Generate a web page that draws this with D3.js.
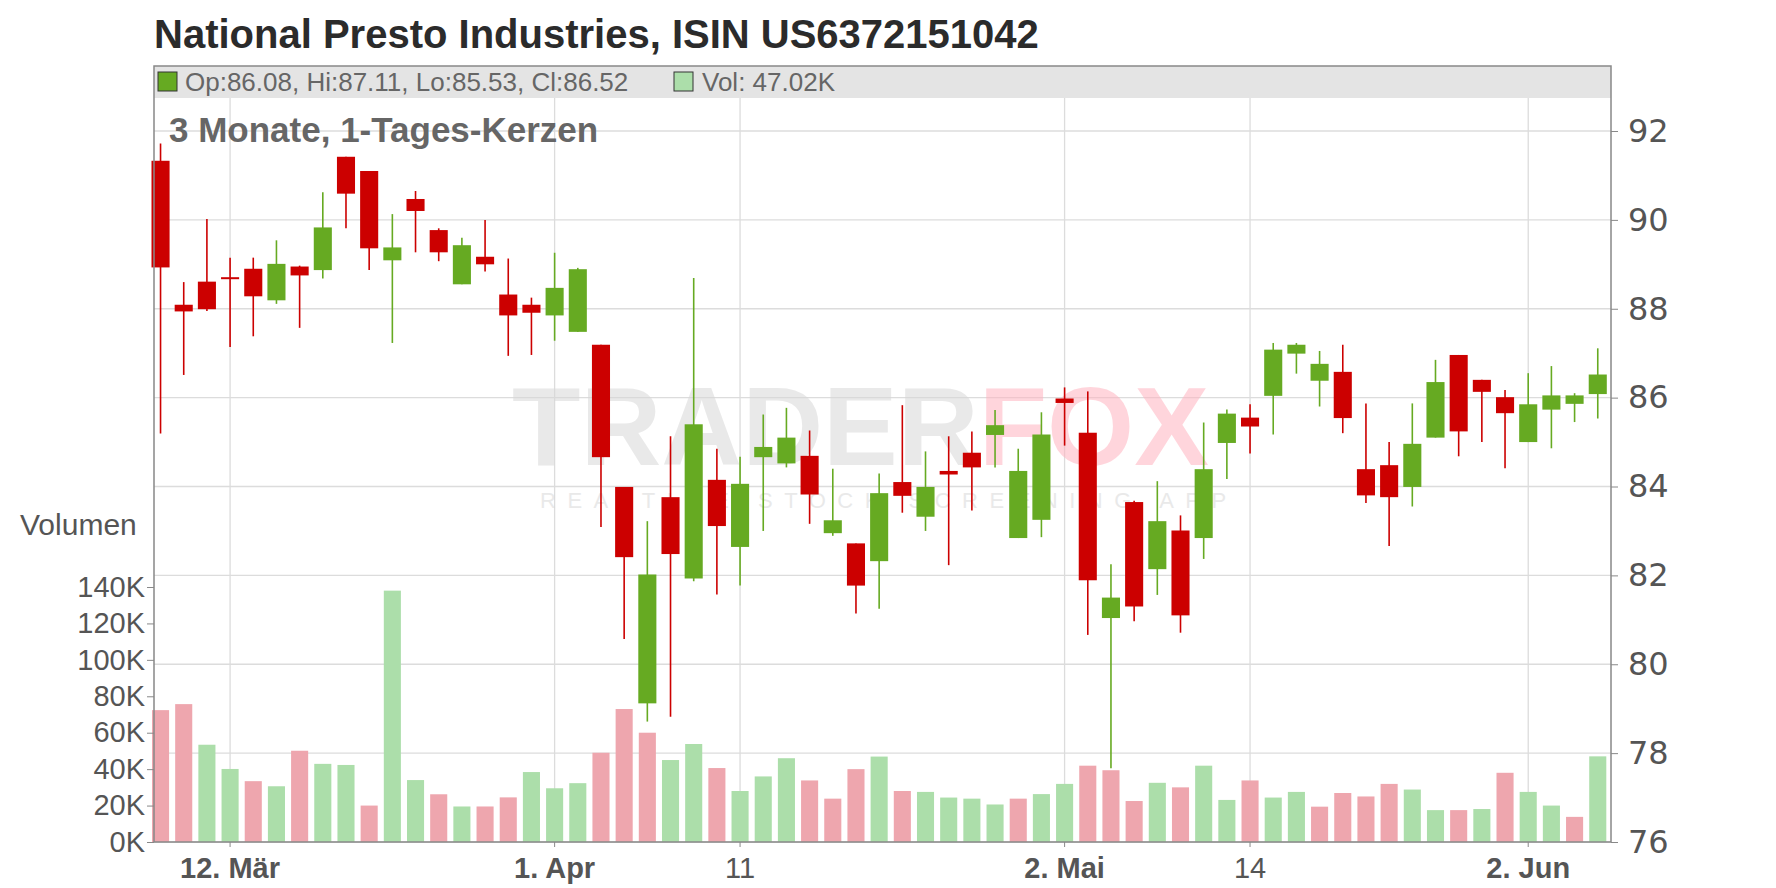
<!DOCTYPE html>
<html>
<head>
<meta charset="utf-8">
<script src="https://cdn.jsdelivr.net/npm/d3@7"></script>
<style>
  body { margin: 0; background: #fff; }
  svg { display: block; font-family: "Liberation Sans", Arial, sans-serif; }
</style>
</head>
<body>
<svg id="chart" width="1776" height="888"></svg>
<script>
// trading days, 7 Mar - 5 Jun
const dates = ['03-07','03-10','03-11','03-12','03-13','03-14','03-17','03-18','03-19','03-20','03-21',
  '03-24','03-25','03-26','03-27','03-28','03-31','04-01','04-02','04-03','04-04','04-07','04-08','04-09',
  '04-10','04-11','04-14','04-15','04-16','04-17','04-21','04-22','04-23','04-24','04-25','04-28','04-29',
  '04-30','05-01','05-02','05-05','05-06','05-07','05-08','05-09','05-12','05-13','05-14','05-15','05-16',
  '05-19','05-20','05-21','05-22','05-23','05-27','05-28','05-29','05-30','06-02','06-03','06-04','06-05']

const open  = [91.33,88.09,88.61,88.71,88.90,88.19,88.95,88.87,91.42,91.10,89.09,90.47,89.77,88.55,89.17,88.32,88.09,87.85,87.48,
  87.19,83.99,79.12,83.76,81.93,84.15,82.64,84.66,84.52,84.69,82.95,82.72,82.32,84.10,83.32,84.35,84.76,85.16,82.84,
  83.25,85.98,85.21,81.04,83.65,82.14,83.01,82.84,84.98,85.55,86.04,86.99,86.38,86.58,84.39,84.48,83.99,85.10,
  86.96,86.40,86.01,85.00,85.73,85.86,86.08]
const high  = [91.72,88.60,90.02,89.15,89.15,89.54,88.97,90.62,91.42,91.10,90.13,90.65,89.81,89.60,90.00,89.13,88.25,89.26,88.92,
  87.19,83.99,83.22,85.13,88.69,84.85,84.67,85.62,85.77,85.26,84.40,82.72,84.29,85.83,84.79,85.13,85.24,85.72,84.85,
  85.67,86.23,86.14,82.25,83.68,84.12,83.35,85.44,85.73,85.85,87.23,87.23,87.05,87.19,85.87,85.00,85.87,86.85,
  86.96,86.40,86.17,86.55,86.71,86.10,87.11]
const low   = [85.19,86.51,87.95,87.14,87.38,88.11,87.57,88.68,89.81,88.87,87.23,89.27,89.07,88.55,88.84,86.94,86.96,87.28,87.48,
  83.09,80.57,78.71,78.82,81.87,81.57,81.77,83.00,84.43,83.16,82.89,81.14,81.25,83.41,83.00,82.23,83.46,84.43,82.84,
  82.86,84.92,80.66,77.66,80.97,81.56,80.71,82.37,84.17,84.74,85.17,86.54,85.80,85.20,83.63,82.66,83.55,85.10,
  84.68,85.00,84.41,85.00,84.86,85.45,85.53]
const close = [88.93,87.94,87.99,88.67,88.28,89.01,88.75,89.83,90.59,89.36,89.38,90.20,89.27,89.43,89.00,87.85,87.91,88.47,88.89,
  84.66,82.41,82.02,82.48,85.40,83.11,84.06,84.89,85.10,83.82,83.24,81.77,83.85,83.79,83.99,84.27,84.43,85.38,84.35,
  85.17,85.88,81.89,81.50,81.30,83.22,81.10,84.39,85.64,85.35,87.08,87.19,86.76,85.54,83.80,83.76,84.96,86.35,
  85.24,86.13,85.65,85.85,86.05,86.05,86.52]
// volume in thousands
const volume = [72.4,75.7,53.4,40.1,33.4,30.6,50.1,42.9,42.3,20.0,138,34.0,26.2,19.5,19.5,24.5,38.4,29.5,32.3,49.0,
  73,60,45,53.8,40.6,28,36,46,33.8,23.8,40,46.9,28,27.5,24.4,23.8,20.6,23.8,26.3,31.9,41.9,39.4,22.5,32.5,30,41.9,
  23.1,33.8,24.4,27.5,19.4,26.9,25,31.9,28.8,17.5,17.5,18.1,38,27.5,20,13.8,47.02]

const priceTicks = [76,78,80,82,84,86,88,90,92]
const volTicks = [0,20,40,60,80,100,120,140]
const xTicks = [['03-12','12. Mär',true],['04-01','1. Apr',true],['04-11','11',false],
  ['05-02','2. Mai',true],['05-14','14',false],['06-02','2. Jun',true]]

const RED = '#cc0000', GREEN = '#66aa22'
const VRED = '#eea6ae', VGREEN = '#acdeaa'

const svg = d3.select('#chart')
const L = 154, R = 1611, T = 66, B = 842

const x = d3.scaleBand().domain(dates).range([151.5, 1606.8]).paddingInner(0.22)
const y = d3.scaleLinear().domain([76, 92]).range([B, 131])
const yv = d3.scaleLinear().domain([0, 140]).range([B, 587])
const cx = d => x(d) + x.bandwidth() / 2

// grid
svg.append('g').selectAll('line').data(priceTicks).join('line')
  .attr('x1', L).attr('x2', R).attr('y1', d => y(d)).attr('y2', d => y(d))
  .attr('stroke', '#dcdcdc').attr('stroke-width', 1.3)
svg.append('g').selectAll('line').data(xTicks).join('line')
  .attr('x1', d => cx(d[0])).attr('x2', d => cx(d[0])).attr('y1', T).attr('y2', B)
  .attr('stroke', '#dcdcdc').attr('stroke-width', 1.3)

// watermark
const wm = svg.append('g').attr('opacity', 0.55)
wm.append('text').attr('x', 512).attr('y', 465).attr('font-size', 112).attr('font-weight', 'bold')
  .attr('fill', '#d8d8d8').text('TRADER')
  .append('tspan').attr('fill', '#ffb4c0').text('FOX')
wm.append('text').attr('x', 540).attr('y', 508).attr('font-size', 22).attr('letter-spacing', 11.5)
  .attr('fill', '#d8d8d8').text('REALTIME STOCK SCREENING APP')

// volume bars
svg.append('g').selectAll('rect').data(dates).join('rect')
  .attr('x', d => x(d) + 0.5).attr('width', x.bandwidth() - 1)
  .attr('y', (d, i) => yv(volume[i])).attr('height', (d, i) => B - yv(volume[i]))
  .attr('fill', (d, i) => i > 0 && close[i] > close[i - 1] ? VGREEN : VRED)

// candles
const cg = svg.append('g')
cg.selectAll('line').data(dates).join('line')
  .attr('x1', cx).attr('x2', cx)
  .attr('y1', (d, i) => y(high[i])).attr('y2', (d, i) => y(low[i]))
  .attr('stroke', (d, i) => close[i] >= open[i] ? GREEN : RED).attr('stroke-width', 1.6)
cg.selectAll('rect').data(dates).join('rect')
  .attr('x', d => x(d)).attr('width', x.bandwidth())
  .attr('y', (d, i) => y(Math.max(open[i], close[i])))
  .attr('height', (d, i) => Math.max(2, Math.abs(y(open[i]) - y(close[i]))))
  .attr('fill', (d, i) => close[i] >= open[i] ? GREEN : RED)

// header band
svg.append('rect').attr('x', L).attr('y', T).attr('width', R - L).attr('height', 32).attr('fill', '#e4e4e4')
const hd = svg.append('g').attr('font-size', 26).attr('fill', '#666')
hd.append('rect').attr('x', 158).attr('y', 72).attr('width', 19).attr('height', 19)
  .attr('fill', GREEN).attr('stroke', '#333').attr('stroke-width', 1)
hd.append('text').attr('x', 185).attr('y', 91).attr('fill', '#666')
  .text(`Op:${open[62].toFixed(2)}, Hi:${high[62].toFixed(2)}, Lo:${low[62].toFixed(2)}, Cl:${close[62].toFixed(2)}`)
hd.append('rect').attr('x', 674).attr('y', 72).attr('width', 19).attr('height', 19)
  .attr('fill', VGREEN).attr('stroke', '#333').attr('stroke-width', 1)
hd.append('text').attr('x', 702).attr('y', 91).attr('fill', '#666').text(`Vol: ${volume[62].toFixed(2)}K`)

// frame
svg.append('rect').attr('x', L).attr('y', T).attr('width', R - L).attr('height', B - T)
  .attr('fill', 'none').attr('stroke', '#888').attr('stroke-width', 1.5)

// right price axis
const ra = svg.append('g').attr('transform', `translate(${R},0)`)
  .call(d3.axisRight(y).tickValues(priceTicks).tickSize(7).tickPadding(10))
ra.select('.domain').remove()
ra.selectAll('line').attr('stroke', '#888')
ra.selectAll('text').attr('font-size', 32).attr('fill', '#555').attr('font-family', '"DejaVu Sans", sans-serif')

// left volume axis
const la = svg.append('g').attr('transform', `translate(${L},0)`)
  .call(d3.axisLeft(yv).tickValues(volTicks).tickFormat(d => d + 'K').tickSize(7).tickPadding(2))
la.select('.domain').remove()
la.selectAll('line').attr('stroke', '#888')
la.selectAll('text').attr('font-size', 29).attr('fill', '#555')

// x labels
svg.append('g').selectAll('line').data(xTicks).join('line')
  .attr('x1', d => cx(d[0])).attr('x2', d => cx(d[0])).attr('y1', B).attr('y2', B + 5).attr('stroke', '#888')
svg.append('g').selectAll('text').data(xTicks).join('text')
  .attr('x', d => cx(d[0])).attr('y', 878).attr('text-anchor', 'middle')
  .attr('font-size', 29).attr('font-weight', d => d[2] ? 'bold' : 'normal').attr('fill', '#555')
  .text(d => d[1])

// titles
svg.append('text').attr('x', 154).attr('y', 48).attr('font-size', 40).attr('font-weight', 'bold')
  .attr('fill', '#2b2b2b').text('National Presto Industries, ISIN US6372151042')
svg.append('text').attr('x', 169).attr('y', 142).attr('font-size', 35).attr('font-weight', 'bold')
  .attr('fill', '#666').text('3 Monate, 1-Tages-Kerzen')
svg.append('text').attr('x', 20).attr('y', 535).attr('font-size', 30).attr('fill', '#555').text('Volumen')
</script>
</body>
</html>
